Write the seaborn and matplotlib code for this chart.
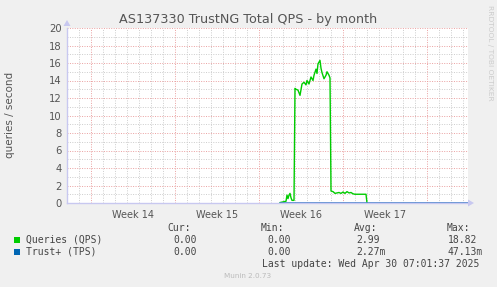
import matplotlib
matplotlib.use("Agg")
import matplotlib.pyplot as plt
import matplotlib.dates as mdates
import seaborn as sns
import pandas as pd
import numpy as np

# ---------------- data ----------------
title = "AS137330 TrustNG Total QPS - by month"
ylabel = "queries / second"
week_labels = ["Week 14", "Week 15", "Week 16", "Week 17"]
week_starts = ["2025-03-31", "2025-04-07", "2025-04-14", "2025-04-21", "2025-04-28"]
x_start = "2025-03-29 00:00"
x_end = "2025-05-01 10:00"

qps_times = [
    "2025-04-15 18:00", "2025-04-15 22:00", "2025-04-16 02:00", "2025-04-16 06:00",
    "2025-04-16 08:00", "2025-04-16 10:00", "2025-04-16 12:00", "2025-04-16 14:00",
    "2025-04-16 16:00", "2025-04-16 18:00", "2025-04-16 20:00", "2025-04-16 22:00",
    "2025-04-17 00:00", "2025-04-17 02:00", "2025-04-17 06:00", "2025-04-17 10:00",
    "2025-04-17 14:00", "2025-04-17 18:00", "2025-04-17 22:00", "2025-04-18 00:00",
    "2025-04-18 04:00", "2025-04-18 08:00", "2025-04-18 12:00", "2025-04-18 14:00",
    "2025-04-18 18:00", "2025-04-18 20:00", "2025-04-18 22:00", "2025-04-19 02:00",
    "2025-04-19 04:00", "2025-04-19 06:00", "2025-04-19 10:00", "2025-04-19 14:00",
    "2025-04-19 16:00", "2025-04-19 20:00", "2025-04-19 22:00", "2025-04-20 00:00",
    "2025-04-20 04:00", "2025-04-20 08:00", "2025-04-20 12:00", "2025-04-20 16:00",
    "2025-04-20 20:00", "2025-04-21 00:00", "2025-04-21 04:00", "2025-04-21 08:00",
    "2025-04-21 12:00", "2025-04-21 16:00", "2025-04-21 20:00", "2025-04-22 00:00",
    "2025-04-22 06:00", "2025-04-22 14:00", "2025-04-22 20:00", "2025-04-22 22:00",
    "2025-04-23 00:00",
]
qps_values = [
    0.05, 0.10, 0.15, 0.20,
    0.90, 0.50, 0.90, 1.10,
    0.60, 0.30, 0.30, 0.30,
    13.1, 13.0, 12.9, 12.3,
    13.6, 13.8, 13.5, 14.0,
    13.6, 14.4, 14.0, 14.6,
    15.3, 14.8, 15.9, 16.3,
    15.4, 14.9, 14.2, 14.6,
    15.0, 14.6, 14.3, 1.37,
    1.30, 1.10, 1.15, 1.20,
    1.10, 1.25, 1.10, 1.30,
    1.15, 1.20, 1.05, 1.00,
    1.00, 1.00, 1.00, 1.00,
    0.00,
]
tps_times = ["2025-04-15 18:00", "2025-05-01 10:00"]
tps_values = [0.0, 0.0]

legend_names = ["Queries (QPS)", "Trust+ (TPS)"]
legend_colors = ["#00cc00", "#0066b3"]
stat_headers = ["Cur:", "Min:", "Avg:", "Max:"]
stats = [["0.00", "0.00", "2.99", "18.82"],
         ["0.00", "0.00", "2.27m", "47.13m"]]
last_update = "Last update: Wed Apr 30 07:01:37 2025"
footer = "Munin 2.0.73"
side_text = "RRDTOOL / TOBI OETIKER"

# ---------------- figure ----------------
W, H = 497, 287
fig = plt.figure(figsize=(W / 100, H / 100), dpi=100, facecolor="#f0f0f0")
sns.set_style("white")
plt.rcParams["font.family"] = ["DejaVu Sans"]

L, R, T, B = 67, 468, 28, 203
ax = fig.add_axes([L / W, (H - B) / H, (R - L) / W, (B - T) / H])
ax.set_facecolor("white")

df_q = pd.DataFrame({"time": pd.to_datetime(qps_times), "value": qps_values})
df_t = pd.DataFrame({"time": pd.to_datetime(tps_times), "value": tps_values})

x0 = mdates.date2num(pd.Timestamp(x_start))
x1 = mdates.date2num(pd.Timestamp(x_end))
ax.set_xlim(x0, x1)
ax.set_ylim(0, 20)

# grid
grid_gray = "#cccccc"
grid_red = "#eaa0a0"
ds = (0, (1, 1.5))
days = np.arange(np.ceil(x0), x1 + 1e-9, 1.0)
wk = [mdates.date2num(pd.Timestamp(w)) for w in week_starts]
for d in days:
    if not any(abs(d - w) < 1e-6 for w in wk):
        ax.axvline(d, color=grid_gray, lw=0.7, ls=ds, zorder=0)
for w in wk:
    ax.axvline(w, color=grid_red, lw=0.7, ls=ds, zorder=0.5)
for yv in range(1, 21):
    ax.axhline(yv, color=(grid_red if yv % 2 == 0 else grid_gray), lw=0.7, ls=ds,
               zorder=0.5 if yv % 2 == 0 else 0)

sns.lineplot(data=df_q, x="time", y="value", ax=ax, color=legend_colors[0],
             lw=1.0, zorder=3, estimator=None)
sns.lineplot(data=df_t, x="time", y="value", ax=ax, color="#5a8ad0",
             lw=1.2, zorder=4, estimator=None)

# ticks
centers = [w + 3.5 for w in wk[:4]]
ax.set_xticks(centers)
ax.set_xticklabels(week_labels)
ax.set_yticks(range(0, 21, 2))
ax.tick_params(axis="x", length=0, labelsize=7, labelcolor="#555555", pad=5)
ax.tick_params(axis="y", length=2, color=grid_red, labelsize=7.2,
               labelcolor="#555555", pad=2)
ax.set_xlabel("")
ax.set_ylabel("")

axis_col = "#c8c8f0"
for s in ["top", "right"]:
    ax.spines[s].set_visible(False)
ax.spines["left"].set_color(axis_col)
ax.spines["bottom"].set_color(axis_col)
ax.spines["left"].set_linewidth(1.0)
ax.spines["bottom"].set_linewidth(1.0)

# arrows
fig.patches.append(plt.Polygon([[(L - 3.5) / W, (H - 26) / H], [(L + 3.5) / W, (H - 26) / H],
                                 [L / W, (H - 20) / H]], closed=True, transform=fig.transFigure,
                                facecolor=axis_col, edgecolor="none"))
fig.patches.append(plt.Polygon([[(R) / W, (H - B + 3.5) / H], [(R) / W, (H - B - 3.5) / H],
                                 [(R + 6) / W, (H - B) / H]], closed=True, transform=fig.transFigure,
                                facecolor=axis_col, edgecolor="none"))

def fx(px):
    return px / W

def fy(py):
    return (H - py) / H

fig.text(fx(248), fy(19), title, ha="center", va="center", fontsize=9.2, color="#555555")
fig.text(fx(10), fy(115), ylabel, ha="center", va="center", rotation=90,
         fontsize=7.5, color="#555555")
fig.text(fx(490), fy(53), side_text, ha="center", va="center", rotation=270,
         fontsize=5.4, color="#cccccc")

mono = "DejaVu Sans Mono"
fs = 7
tc = "#444444"
header_x = [167, 261, 354, 447]
value_x = [173, 267, 356, 448]
for hx, h in zip(header_x, stat_headers):
    fig.text(fx(hx), fy(228), h, family=mono, fontsize=fs, color=tc, va="center", ha="left")
row_y = [240, 252]
for i, (name, col) in enumerate(zip(legend_names, legend_colors)):
    y = row_y[i]
    fig.patches.append(plt.Rectangle((fx(14), fy(y + 3)), 6 / W, 6 / H,
                                     transform=fig.transFigure, facecolor=col, edgecolor="none"))
    fig.text(fx(26), fy(y), name, family=mono, fontsize=fs, color=tc, va="center", ha="left")
    for vx, v in zip(value_x, stats[i]):
        fig.text(fx(vx), fy(y), v, family=mono, fontsize=fs, color=tc, va="center", ha="left")
fig.text(fx(262), fy(264), last_update, family=mono, fontsize=fs, color=tc, va="center", ha="left")
fig.text(fx(248), fy(276), footer, ha="center", va="center", fontsize=5.2, color="#bbbbbb")

fig.savefig("out.png", dpi=100, facecolor=fig.get_facecolor())
